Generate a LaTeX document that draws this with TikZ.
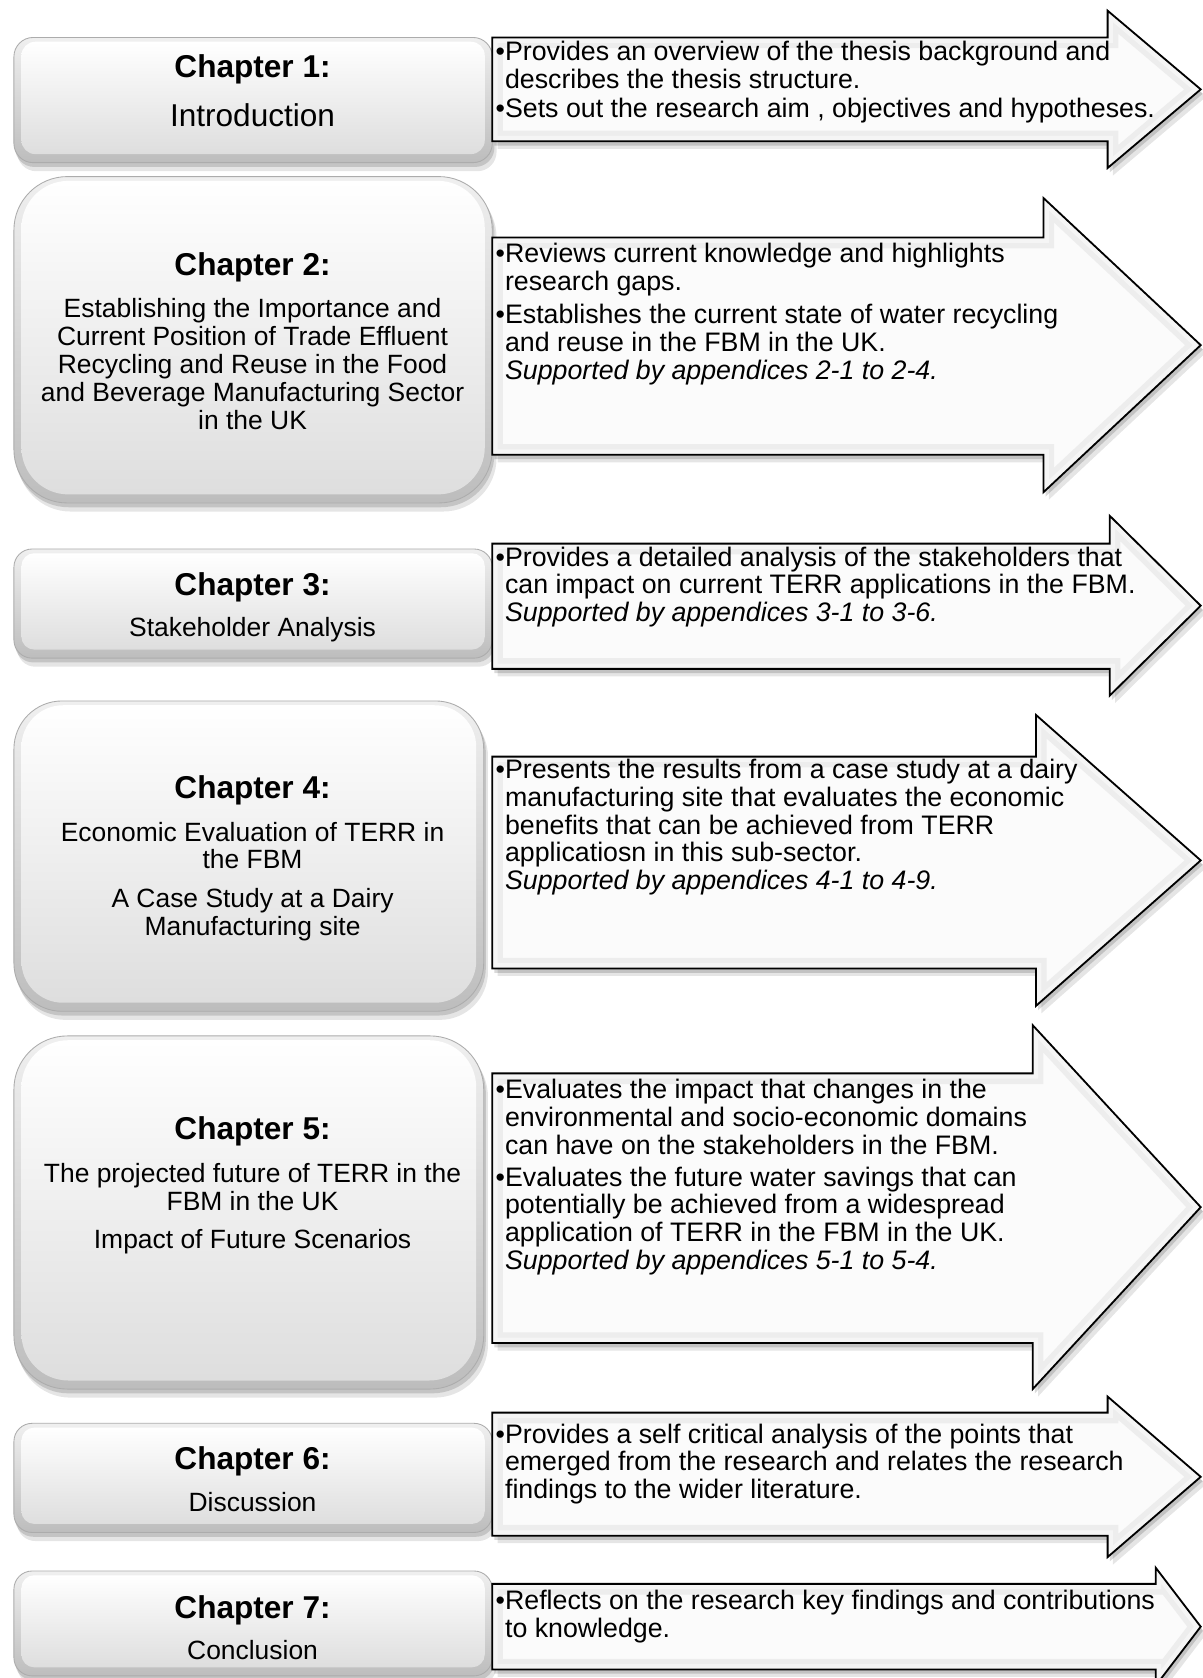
\documentclass[tikz,border=0pt]{standalone}
\usepackage{fontspec}
\setmainfont{Liberation Sans}

% Outline of an arrow: #1 head base x, #2 body top, #3 body bottom, #4 head top, #5 head bottom
\newcommand\arrowshape[5]{(460,#2) -- (#1,#2) -- (#1,#4) -- (1122,{(#4+#5)/2}) -- (#1,#5) -- (#1,#3) -- (460,#3) -- cycle}

% Bevelled arrow with a soft shadow
\newcommand\chaparrow[5]{%
  \fill[black,opacity=.10,shift={(5,7)}] \arrowshape{#1}{#2}{#3}{#4}{#5};
  \fill[black,opacity=.15,shift={(2,4)}] \arrowshape{#1}{#2}{#3}{#4}{#5};
  \begin{scope}
    \clip \arrowshape{#1}{#2}{#3}{#4}{#5};
    \fill[gray!3] \arrowshape{#1}{#2}{#3}{#4}{#5};
    \draw[gray!14, line width=20pt, line join=miter] \arrowshape{#1}{#2}{#3}{#4}{#5};
    \draw[gray!8, line width=10pt, line join=miter] \arrowshape{#1}{#2}{#3}{#4}{#5};
  \end{scope}
  \draw[black, line width=1.7pt, line join=miter] \arrowshape{#1}{#2}{#3}{#4}{#5};
}

% Bevelled rounded chapter box: x0 y0 x1 y1 outer radius inner radius
\newcommand\chapbox[6]{%
  \fill[black,opacity=.10,rounded corners=#5] ({#1+3},{#2+7}) rectangle ({#3+4},{#4+8});
  \fill[black,opacity=.14,rounded corners=#5] ({#1+1},{#2+3}) rectangle ({#3+2},{#4+4});
  \path[rounded corners=#5, top color=gray!12, bottom color=gray!52, draw=gray!65, line width=.8pt] (#1,#2) rectangle (#3,#4);
  \path[rounded corners=#6, top color=white, bottom color=gray!26] ({#1+7},{#2+4}) rectangle ({#3-7},{#4-8});
}

\begin{document}
\begin{tikzpicture}[x=1pt,y=-1pt,
  bodytext/.style={font=\fontsize{25}{26}\selectfont, inner sep=0pt, align=left, anchor=north west},
  captext/.style={font=\fontsize{24.7}{26}\selectfont, inner sep=0pt, align=center, anchor=north},
  capline/.style={font=\fontsize{24.7}{26}\selectfont, inner sep=0pt, anchor=base},
  bigline/.style={font=\fontsize{29.5}{32}\selectfont, inner sep=0pt, anchor=base},
  titletext/.style={font=\fontsize{29.5}{32}\selectfont\bfseries, inner sep=0pt, anchor=base}]

\clip (0,0) rectangle (1124,1568);
\fill[white] (0,0) rectangle (1124,1568);

% chapter boxes
\chapbox{13}{35}{460}{152}{18}{13}
\chapbox{13}{165}{460}{470}{50}{44}
\chapbox{13}{513}{460}{615}{17}{12}
\chapbox{13}{655}{452}{945}{45}{39}
\chapbox{13}{968}{452}{1298}{50}{44}
\chapbox{13}{1330}{460}{1432}{17}{12}
\chapbox{13}{1468}{460}{1566}{17}{12}

% arrows
\chaparrow{1035}{35}{132}{10}{157}
\chaparrow{975}{222}{425}{185}{460}
\chaparrow{1037}{508}{625}{482}{650}
\chaparrow{968}{707}{905}{668}{940}
\chaparrow{965}{1003}{1255}{958}{1298}
\chaparrow{1035}{1320}{1435}{1305}{1455}
\chaparrow{1080}{1480}{1560}{1465}{1575}

% chapter titles
\node[titletext] (ct1) at (236,72.5) {Chapter 1:};
\node[bigline] (cb1) at (236,118.5) {Introduction};

\node[titletext] (ct2) at (236,257.5) {Chapter 2:};
\node[captext] (cb2) at (236,278.5) {\strut Establishing the Importance and\\
  Current Position of Trade Effluent\\
  Recycling and Reuse in the Food\\
  and Beverage Manufacturing Sector\\
  in the UK};

\node[titletext] (ct3) at (236,556.5) {Chapter 3:};
\node[capline] (cb3) at (236,594.7) {Stakeholder Analysis};

\node[titletext] (ct4) at (236,746.5) {Chapter 4:};
\node[captext] (cb4) at (236,767.5) {\strut Economic Evaluation of TERR in\\
  the FBM\\[10pt]
  A Case Study at a Dairy\\
  Manufacturing site};

\node[titletext] (ct5) at (236,1064.5) {Chapter 5:};
\node[captext] (cb5) at (236,1086.5) {\strut The projected future of TERR in the\\
  FBM in the UK\\[10pt]
  Impact of Future Scenarios};

\node[titletext] (ct6) at (236,1373.5) {Chapter 6:};
\node[capline] (cb6) at (236,1412.7) {Discussion};

\node[titletext] (ct7) at (236,1512.5) {Chapter 7:};
\node[capline] (cb7) at (236,1550.7) {Conclusion};

% arrow texts
\node[bodytext] (at1) at (463,38) {\strut\textbullet Provides an overview of the thesis background and\\
  \phantom{\textbullet}describes the thesis structure.\\[1pt]
  \textbullet Sets out the research aim , objectives and hypotheses.};

\node[bodytext] (at2) at (463,227) {\strut\textbullet Reviews current knowledge and highlights\\
  \phantom{\textbullet}research gaps.\\[5pt]
  \textbullet Establishes the current state of water recycling\\
  \phantom{\textbullet}and reuse in the FBM in the UK.\\
  \phantom{\textbullet}\textit{Supported by appendices 2-1 to 2-4.}};

\node[bodytext] (at3) at (463,510.5) {\strut\textbullet Provides a detailed analysis of the stakeholders that\\
  \phantom{\textbullet}can impact on current TERR applications in the FBM.\\
  \phantom{\textbullet}\textit{Supported by appendices 3-1 to 3-6.}};

\node[bodytext] (at4) at (463,709) {\strut\textbullet Presents the results from a case study at a dairy\\
  \phantom{\textbullet}manufacturing site that evaluates the economic\\
  \phantom{\textbullet}benefits that can be achieved from TERR\\
  \phantom{\textbullet}applicatiosn in this sub-sector.\\
  \phantom{\textbullet}\textit{Supported by appendices 4-1 to 4-9.}};

\node[bodytext] (at5) at (463,1008) {\strut\textbullet Evaluates the impact that changes in the\\
  \phantom{\textbullet}environmental and socio-economic domains\\
  \phantom{\textbullet}can have on the stakeholders in the FBM.\\[4pt]
  \textbullet Evaluates the future water savings that can\\
  \phantom{\textbullet}potentially be achieved from a widespread\\
  \phantom{\textbullet}application of TERR in the FBM in the UK.\\
  \phantom{\textbullet}\textit{Supported by appendices 5-1 to 5-4.}};

\node[bodytext] (at6) at (463,1330) {\strut\textbullet Provides a self critical analysis of the points that\\
  \phantom{\textbullet}emerged from the research and relates the research\\
  \phantom{\textbullet}findings to the wider literature.};

\node[bodytext] (at7) at (463,1485.5) {\strut\textbullet Reflects on the research key findings and contributions\\
  \phantom{\textbullet}to knowledge.};

\end{tikzpicture}
\end{document}
